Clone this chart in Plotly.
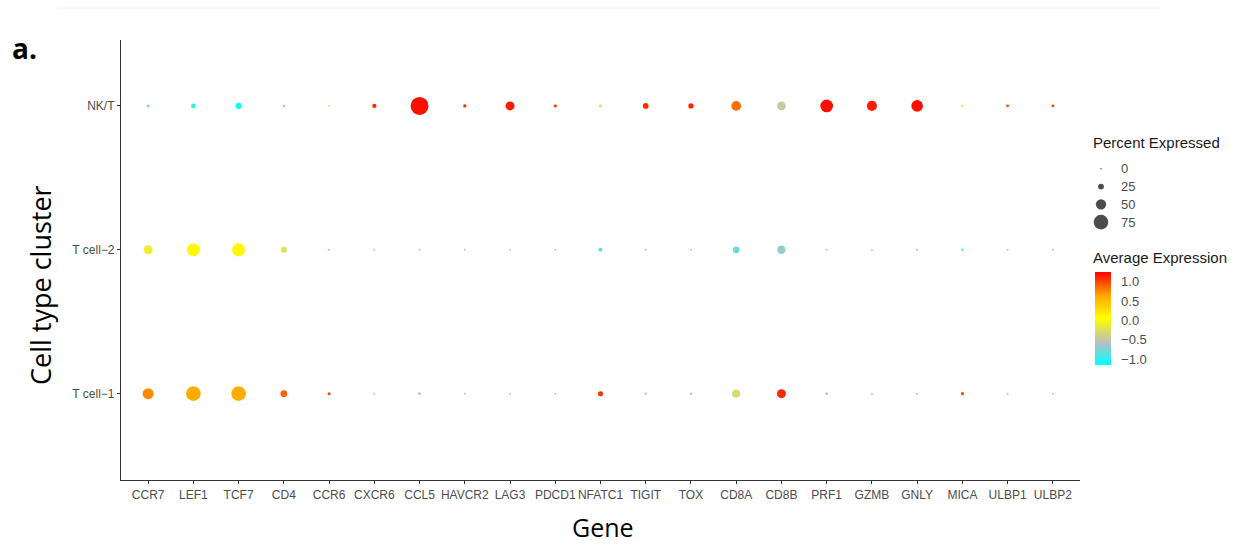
import plotly.graph_objects as go

# Genes on the x axis, clusters on the y axis (bottom to top)
genes = ["CCR7", "LEF1", "TCF7", "CD4", "CCR6", "CXCR6", "CCL5", "HAVCR2", "LAG3",
         "PDCD1", "NFATC1", "TIGIT", "TOX", "CD8A", "CD8B", "PRF1", "GZMB", "GNLY",
         "MICA", "ULBP1", "ULBP2"]
clusters = ["T cell\u22121", "T cell\u22122", "NK/T"]

# Percent of cells expressing each gene, per cluster
pct_tcell1 = [54, 75, 75, 30, 9, 3, 8, 3, 3, 3, 20, 5, 5, 39, 43, 7, 3, 3, 10, 3, 3]
pct_tcell2 = [43, 64, 66, 26, 3, 2, 3, 2, 2, 2, 14, 2, 2, 30, 39, 3, 2, 2, 5, 2, 2]
pct_nkt = [8, 18, 26, 5, 3, 16, 94, 10, 43, 9, 9, 24, 22, 47, 41, 64, 49, 58, 5, 8, 8]

# Scaled average expression per cluster
avg_tcell1 = [0.75, 0.6, 0.6, 0.9, 1.0, -0.5, -0.45, -0.5, -0.45, -0.5, 1.1, -0.45, -0.5,
              -0.3, 1.1, -0.5, -0.5, -0.5, 1.0, -0.5, -0.5]
avg_tcell2 = [-0.1, 0.1, 0.1, -0.25, -0.7, -0.5, -0.55, -0.5, -0.55, -0.5, -0.9, -0.55, -0.5,
              -0.8, -0.7, -0.5, -0.55, -0.55, -0.9, -0.5, -0.5]
avg_nkt = [-0.8, -1.0, -1.1, -0.7, -0.2, 1.1, 1.2, 1.1, 1.15, 1.0, -0.25, 1.1, 1.1,
           0.85, -0.45, 1.2, 1.15, 1.2, -0.2, 0.95, 1.0]

# Size legend breaks and colour bar ticks
size_breaks = [0, 25, 50, 75]
color_ticks = [1.0, 0.5, 0.0, -0.5, -1.0]
color_ticktext = ["1.0", "0.5", "0.0", "\u22120.5", "\u22121.0"]

W, H = 1242, 546
CMIN, CMAX = -1.15, 1.25
colorscale = [[0.0, "#00FFFF"], [0.25, "#BEBEBE"], [0.5, "#FFFF00"],
              [0.75, "#FFA500"], [1.0, "#FF0000"]]


def dot_size(p):
    # dot diameter in pixels grows linearly with percent expressed
    return 1.5 + 0.175 * p


def px_x(px):
    return px / W


def px_y(py):
    return 1 - py / H


xs, ys, sizes, colors, texts = [], [], [], [], []
for cl, pcts, avgs in zip(clusters, [pct_tcell1, pct_tcell2, pct_nkt],
                          [avg_tcell1, avg_tcell2, avg_nkt]):
    for g, p, a in zip(genes, pcts, avgs):
        xs.append(g)
        ys.append(cl)
        sizes.append(dot_size(p))
        colors.append(a)
        texts.append(f"{g} / {cl}<br>Percent: {p}<br>Avg: {a}")

SANS = "Liberation Sans, Arial, sans-serif"
tick_font = dict(family=SANS, size=12, color="#4D4D4D")
legend_label_font = dict(family=SANS, size=13, color="#4D4D4D")

fig = go.Figure()
fig.add_trace(go.Scatter(
    x=xs, y=ys, mode="markers", text=texts, hoverinfo="text",
    marker=dict(
        size=sizes, color=colors, cmin=CMIN, cmax=CMAX, colorscale=colorscale,
        line=dict(width=0), opacity=1,
        colorbar=dict(
            x=px_x(1095), xanchor="left", y=px_y(318.5), yanchor="middle",
            lenmode="pixels", len=93, thickness=16, xpad=0, ypad=0,
            outlinewidth=0, tickvals=color_ticks, ticktext=color_ticktext,
            ticks="outside", ticklen=8, tickcolor="rgba(255,255,255,0)",
            tickfont=legend_label_font,
        ),
    ),
    xaxis="x", yaxis="y", showlegend=False,
))

# Size legend drawn on its own small axis pair
fig.add_trace(go.Scatter(
    x=[0.5] * len(size_breaks), y=list(range(len(size_breaks))), mode="markers",
    marker=dict(size=[dot_size(b) for b in size_breaks], color="black", line=dict(width=0)),
    xaxis="x2", yaxis="y2", showlegend=False, hoverinfo="skip",
))

fig.update_layout(
    width=W, height=H, template="none",
    paper_bgcolor="white", plot_bgcolor="white",
    margin=dict(l=0, r=0, t=0, b=0),
    xaxis=dict(
        domain=[px_x(121), px_x(1080)], type="category", categoryorder="array",
        categoryarray=genes, range=[-0.6, 20.6], showgrid=False, zeroline=False,
        showline=True, linecolor="#333333", linewidth=1.2, ticks="outside",
        ticklen=3, tickcolor="#333333", tickwidth=1, tickfont=tick_font,
        automargin=False, fixedrange=True,
    ),
    yaxis=dict(
        domain=[px_y(480), px_y(40)], type="category", categoryorder="array",
        categoryarray=clusters, range=[-0.6, 2.458], showgrid=False, zeroline=False,
        showline=True, linecolor="#333333", linewidth=1.2, ticks="outside",
        ticklen=3, tickcolor="#333333", tickwidth=1, tickfont=tick_font,
        automargin=False, fixedrange=True,
    ),
    xaxis2=dict(domain=[px_x(1090), px_x(1112)], range=[0, 1], visible=False,
                anchor="y2", fixedrange=True),
    yaxis2=dict(domain=[px_y(231), px_y(160)], range=[3.5, -0.5], anchor="x2",
                side="right", showgrid=False, zeroline=False, showline=False,
                tickvals=list(range(len(size_breaks))),
                ticktext=[str(b) for b in size_breaks], ticks="",
                ticklabelstandoff=8, tickfont=legend_label_font,
                automargin=False, fixedrange=True),
)

legend_title_font = dict(family=SANS, size=15, color="#1A1A1A")

fig.add_annotation(text="<b>a.</b>", x=px_x(10), y=px_y(48), xref="paper", yref="paper",
                   xanchor="left", yanchor="middle", showarrow=False,
                   font=dict(family="Open Sans, sans-serif", size=28, color="black"))
fig.add_annotation(text="Gene", x=px_x(603), y=px_y(527), xref="paper", yref="paper",
                   xanchor="center", yanchor="middle", showarrow=False,
                   font=dict(family="Open Sans, sans-serif", size=25, color="black"))
fig.add_annotation(text="Cell type cluster", x=px_x(40), y=px_y(285), xref="paper",
                   yref="paper", xanchor="center", yanchor="middle", showarrow=False,
                   textangle=-90,
                   font=dict(family="Open Sans, sans-serif", size=27, color="black"))
fig.add_annotation(text="Percent Expressed", x=px_x(1091), y=px_y(143), xref="paper",
                   yref="paper", xanchor="left", yanchor="middle", showarrow=False,
                   font=legend_title_font)
fig.add_annotation(text="Average Expression", x=px_x(1091), y=px_y(257), xref="paper",
                   yref="paper", xanchor="left", yanchor="middle", showarrow=False,
                   font=legend_title_font)

# faint frame line along the top of the panel
fig.add_shape(type="line", x0=px_x(57), x1=px_x(1160), y0=px_y(8), y1=px_y(8),
              xref="paper", yref="paper", line=dict(color="#F0F0F0", width=1))

fig.write_html("out.html")
